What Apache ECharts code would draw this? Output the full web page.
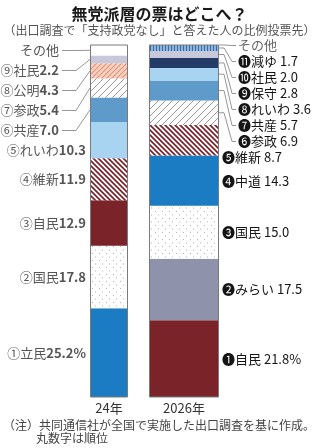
<!DOCTYPE html>
<html>
<head>
<meta charset="utf-8">
<script src="https://cdn.jsdelivr.net/npm/echarts@6/dist/echarts.min.js"></script>
<style>
html, body { margin: 0; padding: 0; background: #fff; }
#chart { width: 319px; height: 448px; }
</style>
</head>
<body>
<div id="chart"></div>
<script>
// data, bottom of each bar first
const years = ['24年', '2026年'];
const parties24 = ['立民', '国民', '自民', '維新', 'れいわ', '共産', '参政', '公明', '社民', 'その他'];
const share24 = [25.2, 17.8, 12.9, 11.9, 10.3, 7.0, 5.4, 4.3, 2.2, 3.0];
const rank24 = ['①', '②', '③', '④', '⑤', '⑥', '⑦', '⑧', '⑨', ''];
const parties26 = ['自民', 'みらい', '国民', '中道', '維新', '参政', '共産', 'れいわ', '保守', '社民', '減ゆ', 'その他'];
const share26 = [21.8, 17.5, 15.0, 14.3, 8.7, 6.9, 5.7, 3.6, 2.8, 2.0, 1.7, 0];
const rank26 = ['❶', '❷', '❸', '❹', '❺', '❻', '❼', '❽', '❾', '❿', '⓫', ''];

const FONT = '"Noto Sans CJK JP", "Noto Sans", sans-serif';

// small canvas fills for the hatched segments
function tile(size, bg, draw) {
  const c = document.createElement('canvas');
  c.width = size; c.height = size;
  const g = c.getContext('2d');
  g.fillStyle = bg;
  g.fillRect(0, 0, size, size);
  draw(g, size);
  return { image: c, repeat: 'repeat' };
}
function diag(size, bg, fg, lw, slash) {
  return tile(size, bg, (g, s) => {
    g.strokeStyle = fg;
    g.lineWidth = lw;
    g.beginPath();
    if (slash) {
      g.moveTo(-s, s); g.lineTo(s, -s);
      g.moveTo(0, s); g.lineTo(s, 0);
      g.moveTo(0, 2 * s); g.lineTo(2 * s, 0);
    } else {
      g.moveTo(-s, 0); g.lineTo(s, 2 * s);
      g.moveTo(0, 0); g.lineTo(s, s);
      g.moveTo(0, -s); g.lineTo(2 * s, s);
    }
    g.stroke();
  });
}
const dots = tile(7, '#ffffff', (g) => {
  g.fillStyle = '#b4b4b4';
  g.fillRect(1, 1, 1, 1);
  g.fillRect(4, 4.5, 1, 1);
});
const vstripe = tile(3, '#8db6df', (g) => {
  g.fillStyle = '#3b68a6';
  g.fillRect(0, 0, 1, 3);
});

const fills = {
  '立民': '#1b7cc4',
  '中道': '#1b7cc4',
  '自民': '#7a2429',
  '国民': dots,
  '維新': diag(5, '#ffffff', '#7a2429', 1.7, false),
  'れいわ': '#a9d4f1',
  '共産': '#5e9bca',
  '参政': diag(7, '#ffffff', '#8c8c8c', 0.9, true),
  '公明': diag(5, '#f8d3c2', '#e3907a', 1.1, true),
  '社民': '#c7c8da',
  'みらい': '#8e93ab',
  '保守': '#243b67',
  '減ゆ': vstripe,
  'その他': '#ffffff'
};

const grids = [
  { left: 90, top: 45, width: 38, height: 352 },
  { left: 149, top: 45, width: 70, height: 352 }
];

const chart = echarts.init(document.getElementById('chart'), null, { renderer: 'canvas' });

const series = [];
[[parties24, share24], [parties26, share26]].forEach(([names, shares], b) => {
  names.forEach((name, k) => {
    series.push({
      type: 'bar',
      name: name,
      xAxisIndex: b,
      yAxisIndex: b,
      stack: 'bar' + b,
      barWidth: '100%',
      data: [shares[k]],
      itemStyle: { color: fills[name] },
      silent: true
    });
  });
});

const axisLabel = { margin: 5, fontSize: 13, color: '#333', fontFamily: FONT };

chart.setOption({
  animation: false,
  grid: grids,
  xAxis: [
    { gridIndex: 0, type: 'category', data: [years[0]], axisLine: { show: false }, axisTick: { show: false }, axisLabel },
    { gridIndex: 1, type: 'category', data: [years[1]], axisLine: { show: false }, axisTick: { show: false }, axisLabel }
  ],
  yAxis: [
    { gridIndex: 0, type: 'value', min: 0, max: 100, show: false },
    { gridIndex: 1, type: 'value', min: 0, max: 100, show: false }
  ],
  series
});

// labels and leader lines, placed with the chart's own coordinate conversion
function layout(b, shares, gap) {
  const mids = [];
  let cum = 0;
  shares.forEach((v) => {
    mids.push(chart.convertToPixel({ gridIndex: b }, [0, cum + v / 2])[1]);
    cum += v;
  });
  const ys = [];
  let prev = -Infinity;
  for (let k = shares.length - 1; k >= 0; k--) {
    ys[k] = Math.round(Math.max(mids[k], prev + gap)) + 0.5;
    prev = ys[k];
  }
  const top = chart.convertToPixel({ gridIndex: b }, [0, 100])[1];
  const bottom = chart.convertToPixel({ gridIndex: b }, [0, 0])[1];
  return { mids, ys, top, bottom };
}

const LINE = { stroke: '#7a7a7a', lineWidth: 1, fill: null };
const elements = [];

function outline(g, top, bottom) {
  elements.push({
    type: 'polyline',
    shape: { points: [[g.left + 0.5, top], [g.left + g.width - 0.5, top], [g.left + g.width - 0.5, bottom], [g.left + 0.5, bottom], [g.left + 0.5, top]] },
    style: LINE, z: 10
  });
}

(function () {
  const g = grids[0];
  const { mids, ys, top, bottom } = layout(0, share24, 19);
  const edge = g.left;
  share24.forEach((v, k) => {
    const small = v < 8;
    const tx = small ? edge - 31 : edge - 4;
    if (small) {
      elements.push({
        type: 'polyline',
        shape: { points: [[tx + 3, ys[k]], [edge - 14, ys[k]], [edge, mids[k]]] },
        style: { stroke: '#8a8a8a', lineWidth: 0.9, fill: null }, z: 10
      });
    }
    const text = rank24[k]
      ? rank24[k] + parties24[k] + '{v|' + v.toFixed(1) + (k === 0 ? '%' : '') + '}'
      : parties24[k];
    elements.push({
      type: 'text', x: tx, y: ys[k], z: 10,
      style: {
        text, font: '13px ' + FONT, fill: '#555', align: 'right', verticalAlign: 'middle',
        rich: { v: { fontSize: 13, fontFamily: FONT, fontWeight: 'bold', fill: '#555' } }
      }
    });
  });
  outline(g, top, bottom);
})();

(function () {
  const g = grids[1];
  const { mids, ys, top, bottom } = layout(1, share26, 15.5);
  const edge = g.left + g.width;
  share26.forEach((v, k) => {
    const small = v < 8;
    const tx = small ? edge + 19 : edge + 3;
    if (small) {
      elements.push({
        type: 'polyline',
        shape: { points: [[edge, mids[k]], [edge + 5, mids[k]], [tx - 6, ys[k]], [tx - 2, ys[k]]] },
        style: { stroke: '#8a8a8a', lineWidth: 0.9, fill: null }, z: 10
      });
    }
    const text = rank26[k]
      ? rank26[k] + parties26[k] + ' ' + v.toFixed(1) + (k === 0 ? '%' : '')
      : parties26[k];
    elements.push({
      type: 'text', x: tx, y: ys[k], z: 10,
      style: { text, font: '13px ' + FONT, fill: rank26[k] ? '#151515' : '#666', align: 'left', verticalAlign: 'middle' }
    });
  });
  outline(g, top, bottom);
})();

elements.push(
  { type: 'text', left: 'center', top: 6, style: { text: '無党派層の票はどこへ？', font: 'bold 16px ' + FONT, fill: '#1a1a1a' } },
  { type: 'text', left: 'center', top: 24, style: { text: '（出口調査で「支持政党なし」と答えた人の比例投票先）', font: '12px ' + FONT, fill: '#555' } },
  { type: 'text', left: 3, top: 419, style: { text: '（注）共同通信社が全国で実施した出口調査を基に作成。', font: '12px ' + FONT, fill: '#444' } },
  { type: 'text', left: 36, top: 432, style: { text: '丸数字は順位', font: '12px ' + FONT, fill: '#444' } }
);

chart.setOption({ graphic: elements });
</script>
</body>
</html>
